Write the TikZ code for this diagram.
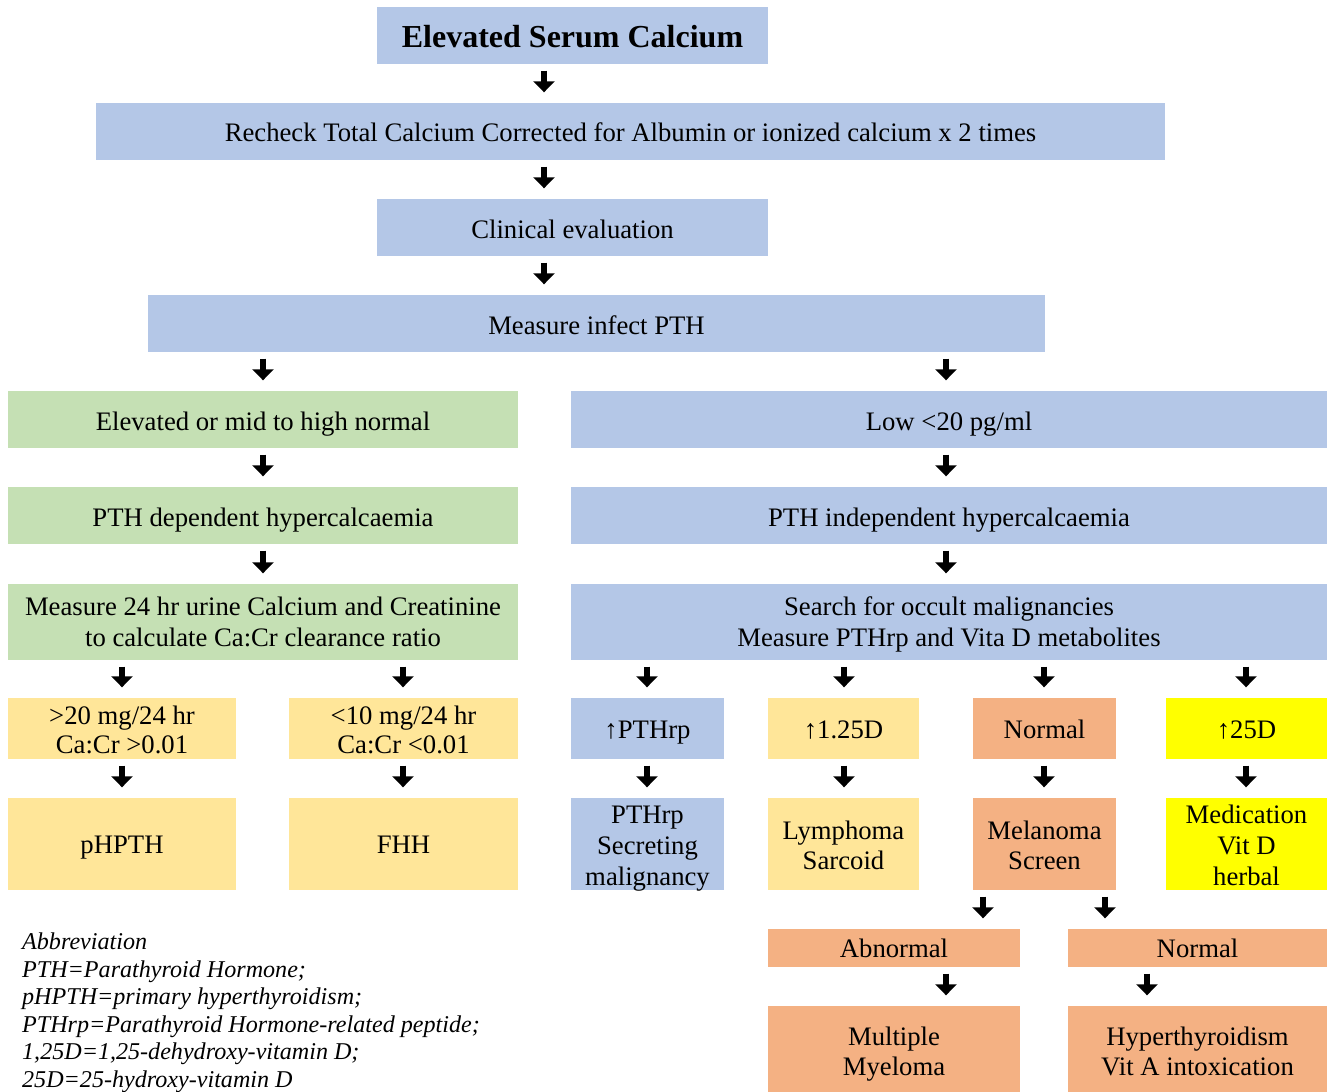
\documentclass[tikz,border=0pt]{standalone}
\usepackage{fontspec}
\setmainfont{Liberation Serif}
\usetikzlibrary{arrows.meta}
\definecolor{cblue}{HTML}{B4C7E7}
\definecolor{cgreen}{HTML}{C5E0B4}
\definecolor{cyel}{HTML}{FFE699}
\definecolor{corg}{HTML}{F4B183}
\definecolor{cbyel}{HTML}{FFFF00}
% first-line height strut and last-line depth strut
\newcommand{\sa}[1]{\rule{0pt}{#1pt}}
\newcommand{\sd}{\rule[-6pt]{0pt}{6pt}}
\tikzset{
  bx/.style={draw=none, inner xsep=0pt, inner ysep=-4pt, align=center, font=\fontsize{26.7}{31}\selectfont},
  bxw/.style 2 args={bx, minimum width=#1pt, minimum height=#2pt},
  arr/.style={line width=6pt, -{Triangle[width=21pt,length=11pt]}, shorten <=6.5pt, shorten >=10.5pt},
}
\begin{document}
\begin{tikzpicture}[x=1pt,y=-1pt]
\useasboundingbox (0,0) rectangle (1333,1092);
% top chain
\node[bxw={391}{57}, fill=cblue, font=\fontsize{32}{36}\selectfont\bfseries] (title) at (572.5,35.5) {\sa{29}Elevated Serum Calcium\sd};
\node[bxw={1069}{57}, fill=cblue] (recheck) at (630.5,131.5) {\sa{26}Recheck Total Calcium Corrected for Albumin or ionized calcium x 2 times\sd};
\node[bxw={391}{57}, fill=cblue] (clin) at (572.5,227.5) {\sa{28}Clinical evaluation\sd};
\node[bxw={897}{57}, fill=cblue] (pth) at (596.5,323.5) {\sa{28}Measure infect PTH\sd};
% left branch
\node[bxw={510}{57}, fill=cgreen] (elev) at (263,419.5) {\sa{28}Elevated or mid to high normal\sd};
\node[bxw={510}{57}, fill=cgreen] (dep) at (263,515.5) {\sa{28}PTH dependent hypercalcaemia\sd};
\node[bxw={510}{76}, fill=cgreen] (urine) at (263,622) {\sa{24}Measure 24 hr urine Calcium and Creatinine\\to calculate Ca:Cr clearance ratio\sd};
\node[bxw={228}{61}, fill=cyel, font=\fontsize{26.7}{29}\selectfont] (gt) at (122,728.5) {\sa{27}>20 mg/24 hr\\Ca:Cr >0.01\sd};
\node[bxw={229}{61}, fill=cyel, font=\fontsize{26.7}{29}\selectfont] (lt) at (403.5,728.5) {\sa{27}<10 mg/24 hr\\Ca:Cr <0.01\sd};
\node[bxw={228}{92}, fill=cyel] (phpth) at (122,844) {\sa{25}pHPTH\sd};
\node[bxw={229}{92}, fill=cyel] (fhh) at (403.5,844) {\sa{25}FHH\sd};
% right branch
\node[bxw={756}{57}, fill=cblue] (low) at (949,419.5) {\sa{28}Low <20 pg/ml\sd};
\node[bxw={756}{57}, fill=cblue] (indep) at (949,515.5) {\sa{28}PTH independent hypercalcaemia\sd};
\node[bxw={756}{76}, fill=cblue] (search) at (949,622) {\sa{24}Search for occult malignancies\\Measure PTHrp and Vita D metabolites\sd};
\node[bxw={153}{61}, fill=cblue] (upthrp) at (647.5,728.5) {\sa{26}↑PTHrp\sd};
\node[bxw={151}{61}, fill=cyel] (u125) at (843.5,728.5) {\sa{26}↑1.25D\sd};
\node[bxw={143}{61}, fill=corg] (norm1) at (1044.5,728.5) {\sa{26}Normal\sd};
\node[bxw={161}{61}, fill=cbyel] (u25) at (1246.5,728.5) {\sa{26}↑25D\sd};
\node[bxw={153}{92}, fill=cblue] (secr) at (647.5,844) {\sa{27}PTHrp\\Secreting\\malignancy\sd};
\node[bxw={151}{92}, fill=cyel, font=\fontsize{26.7}{30}\selectfont] (lymph) at (843.5,844) {\sa{27}Lymphoma\\Sarcoid\sd};
\node[bxw={143}{92}, fill=corg, font=\fontsize{26.7}{30}\selectfont] (mela) at (1044.5,844) {\sa{27}Melanoma\\Screen\sd};
\node[bxw={161}{92}, fill=cbyel] (medic) at (1246.5,844) {\sa{27}Medication\\Vit D\\herbal\sd};
\node[bxw={252}{38}, fill=corg] (abn) at (894,948) {\sa{25}Abnormal\sd};
\node[bxw={259}{38}, fill=corg] (norm2) at (1197.5,948) {\sa{25}Normal\sd};
\node[bxw={252}{86}, fill=corg, font=\fontsize{26.7}{30}\selectfont] (mm) at (894,1049) {\sa{29}Multiple\\Myeloma\sd};
\node[bxw={259}{86}, fill=corg, font=\fontsize{26.7}{30}\selectfont] (hyper) at (1197.5,1049) {\sa{29}Hyperthyroidism\\Vit A intoxication\sd};
% abbreviations
\node[anchor=north west, inner sep=0pt, align=left, font=\fontsize{24.1}{27.5}\selectfont\itshape] (abbr) at (22,933)
 {Abbreviation\\PTH=Parathyroid Hormone;\\pHPTH=primary hyperthyroidism;\\PTHrp=Parathyroid Hormone-related peptide;\\1,25D=1,25-dehydroxy-vitamin D;\\25D=25-hydroxy-vitamin D};
% arrow columns
\coordinate (c544) at (544,0);
\coordinate (c263) at (263,0);
\coordinate (c946) at (946,0);
\coordinate (c122) at (122,0);
\coordinate (c403) at (403,0);
\coordinate (c647) at (647,0);
\coordinate (c844) at (844,0);
\coordinate (c1044) at (1044,0);
\coordinate (c1246) at (1246,0);
\coordinate (c983) at (983,0);
\coordinate (c1105) at (1105,0);
\coordinate (c1147) at (1147,0);
% arrows
\draw[arr] (title.south -| c544) -- (recheck.north -| c544);
\draw[arr] (recheck.south -| c544) -- (clin.north -| c544);
\draw[arr] (clin.south -| c544) -- (pth.north -| c544);
\draw[arr] (pth.south -| c263) -- (elev.north -| c263);
\draw[arr] (pth.south -| c946) -- (low.north -| c946);
\draw[arr] (elev.south -| c263) -- (dep.north -| c263);
\draw[arr] (low.south -| c946) -- (indep.north -| c946);
\draw[arr] (dep.south -| c263) -- (urine.north -| c263);
\draw[arr] (indep.south -| c946) -- (search.north -| c946);
\draw[arr] (urine.south -| c122) -- (gt.north -| c122);
\draw[arr] (urine.south -| c403) -- (lt.north -| c403);
\draw[arr] (search.south -| c647) -- (upthrp.north -| c647);
\draw[arr] (search.south -| c844) -- (u125.north -| c844);
\draw[arr] (search.south -| c1044) -- (norm1.north -| c1044);
\draw[arr] (search.south -| c1246) -- (u25.north -| c1246);
\draw[arr] (gt.south -| c122) -- (phpth.north -| c122);
\draw[arr] (lt.south -| c403) -- (fhh.north -| c403);
\draw[arr] (upthrp.south -| c647) -- (secr.north -| c647);
\draw[arr] (u125.south -| c844) -- (lymph.north -| c844);
\draw[arr] (norm1.south -| c1044) -- (mela.north -| c1044);
\draw[arr] (u25.south -| c1246) -- (medic.north -| c1246);
\draw[arr] (mela.south -| c983) -- (abn.north -| c983);
\draw[arr] (mela.south -| c1105) -- (norm2.north -| c1105);
\draw[arr] (abn.south -| c946) -- (mm.north -| c946);
\draw[arr] (norm2.south -| c1147) -- (hyper.north -| c1147);
\end{tikzpicture}
\end{document}
